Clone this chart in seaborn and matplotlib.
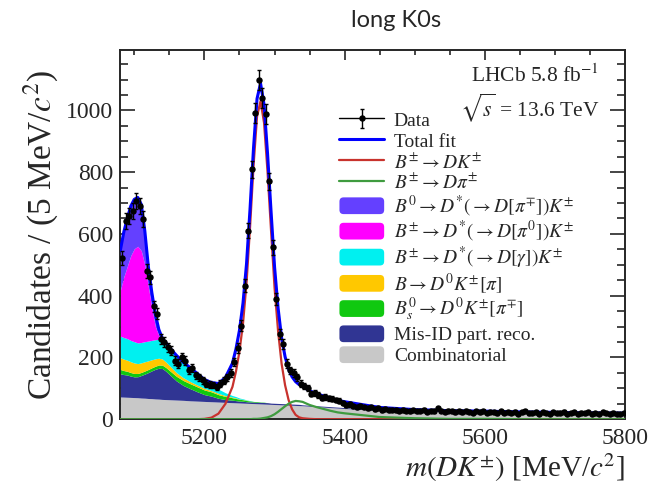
import numpy as np
import matplotlib
matplotlib.use("Agg")
import matplotlib.pyplot as plt
import seaborn as sns
from matplotlib.patches import FancyBboxPatch, Patch
from matplotlib.legend_handler import HandlerPatch
from matplotlib.lines import Line2D
from matplotlib.ticker import MultipleLocator

# Data histogram: 5 MeV bins from 5080 to 5800
bin_lo, bin_width = 5080.0, 5.0
counts = [
    523, 642, 658, 674, 706, 690, 648, 480, 460, 365,
    342, 261, 249, 233, 222, 190, 180, 201, 190, 158,
    165, 142, 135, 126, 115, 112, 110, 105, 115, 125,
    136, 150, 185, 230, 303, 432, 610, 809, 991, 1099,
    1040, 988, 771, 556, 389, 276, 244, 180, 158, 150,
    136, 115, 108, 100, 83, 85, 78, 70, 72, 68,
    66, 62, 60, 52, 45, 48, 42, 40, 44, 38,
    35, 38, 33, 36, 30, 34, 29, 31, 30, 27,
    30, 28, 26, 29, 25, 27, 31, 24, 28, 26,
    35, 27, 24, 28, 25, 23, 26, 22, 27, 24,
    21, 25, 23, 26, 20, 24, 22, 19, 25, 21,
    23, 20, 24, 18, 22, 25, 19, 21, 23, 18,
    22, 20, 17, 23, 19, 21, 24, 18, 20, 22,
    17, 21, 19, 23, 16, 20, 18, 22, 19, 17,
    21, 18, 16, 20,
]

# Fit components sampled along the mass axis
mass = [5080, 5085, 5090, 5095, 5100, 5105, 5110, 5115, 5120, 5125, 5130, 5135, 5140, 5145, 5150, 5155, 5160,
        5170, 5180, 5190, 5200, 5210, 5220, 5230,
        5240, 5245, 5250, 5255, 5260, 5265, 5270, 5275, 5280, 5285, 5290, 5295, 5300, 5305, 5310, 5315, 5320,
        5325, 5330, 5335, 5340,
        5350, 5360, 5370, 5380, 5390, 5400,
        5450, 5500, 5550, 5600, 5650, 5700, 5750, 5800]

combinatorial = [72, 71.5, 71, 70.5, 70, 69.5, 68.5, 68, 67, 66.5, 65.5, 65, 64, 63.5, 63, 62.5, 62,
                 61, 59.5, 58.5, 57.5, 56.5, 55.5, 54.5,
                 53.5, 53, 52.5, 52, 51.5, 51, 50.5, 50, 49.5, 49, 48.5, 48, 47.5, 47, 46.5, 46, 45.5,
                 45, 44.5, 44, 43.5,
                 42, 40.5, 39, 37.5, 36, 34.5,
                 28, 26, 24.5, 23, 21.5, 20, 18.5, 17.5]
misid = [75, 73, 72, 69, 67, 68, 73, 78, 84, 90, 96, 100, 100, 92, 82, 72, 62,
         48, 39, 30, 22, 18, 12, 9,
         8, 7, 6, 6, 5, 5, 5, 5, 5, 5, 5, 4, 4, 4, 4, 4, 4,
         4, 4, 4, 3,
         3, 3, 3, 3, 3, 3,
         3, 2, 2, 2, 2, 2, 2, 2]
bs_d0k = [14, 13, 12, 11.5, 11, 10.5, 10, 10, 10, 10, 10, 10.5, 11, 12, 13, 14, 15,
          16, 16, 16, 15, 14, 12, 10,
          8, 7, 6, 5, 4, 3, 2, 2, 1, 1, 0, 0, 0, 0, 0, 0, 0,
          0, 0, 0, 0,
          0, 0, 0, 0, 0, 0,
          0, 0, 0, 0, 0, 0, 0, 0]
b_d0k = [38, 37, 36, 35, 34, 32, 31, 30, 28, 26, 24, 22, 20, 18, 16, 14, 12,
         9, 7, 6, 5, 4, 4, 3,
         2, 2, 1, 1, 1, 0, 0, 0, 0, 0, 0, 0, 0, 0, 0, 0, 0,
         0, 0, 0, 0,
         0, 0, 0, 0, 0, 0,
         0, 0, 0, 0, 0, 0, 0, 0]
dstar_gamma = [70, 70, 70, 69, 69, 67, 66, 65, 64, 63, 62, 61, 60, 58, 57, 56, 55,
               50, 45, 37, 28, 21, 14, 9,
               5, 4, 3, 2, 1, 1, 0, 0, 0, 0, 0, 0, 0, 0, 0, 0, 0,
               0, 0, 0, 0,
               0, 0, 0, 0, 0, 0,
               0, 0, 0, 0, 0, 0, 0, 0]
dstar_pi0 = [147, 196, 234, 275, 301, 313, 297, 249, 177, 105, 43, 12, 3, 2, 1, 0, 0,
             0, 0, 0, 0, 0, 0, 0,
             0, 0, 0, 0, 0, 0, 0, 0, 0, 0, 0, 0, 0, 0, 0, 0, 0,
             0, 0, 0, 0,
             0, 0, 0, 0, 0, 0,
             0, 0, 0, 0, 0, 0, 0, 0]
dstar_pic = [129, 145, 155, 160, 160, 158, 150, 110, 65, 50, 40, 20, 4, 2, 1, 1, 1,
             0, 0, 0, 0, 0, 0, 0,
             0, 0, 0, 0, 0, 0, 0, 0, 0, 0, 0, 0, 0, 0, 0, 0, 0,
             0, 0, 0, 0,
             0, 0, 0, 0, 0, 0,
             0, 0, 0, 0, 0, 0, 0, 0]
b_dk = [0, 0, 0, 0, 0, 0, 0, 0, 0, 0, 0, 0, 0, 0, 0, 0, 0,
        0, 0, 0, 1, 5, 18, 50,
        105, 155, 220, 310, 440, 620, 820, 980, 1030, 960, 800, 610, 425, 285, 180, 110, 62,
        32, 14, 6, 3,
        1, 0, 0, 0, 0, 0,
        0, 0, 0, 0, 0, 0, 0, 0]
b_dpi = [0, 0, 0, 0, 0, 0, 0, 0, 0, 0, 0, 0, 0, 0, 0, 0, 0,
         0, 0, 0, 0, 0, 0, 0,
         0, 0, 0, 0, 0, 0, 1, 1, 2, 4, 6, 10, 16, 24, 33, 42, 50,
         56, 59, 58, 56,
         46, 39, 33, 27, 22, 19,
         7, 3, 1, 1, 0, 0, 0, 0]

# stacked backgrounds, bottom to top
stack = [combinatorial, misid, bs_d0k, b_d0k, dstar_gamma, dstar_pi0, dstar_pic]
stack_colors = ["#c8c8c8", "#303593", "#10c810", "#ffc800", "#00f0f0", "#ff00ff", "#6440ff"]
stack_labels = ["Combinatorial", "Mis-ID part. reco.",
                r"$B_{s}^{0} \to D^{0}K^{\pm}[\pi^{\mp}]$",
                r"$B \to D^{0}K^{\pm}[\pi]$",
                r"$B^{\pm} \to D^{*}(\to D[\gamma])K^{\pm}$",
                r"$B^{\pm} \to D^{*}(\to D[\pi^{0}])K^{\pm}$",
                r"$B^{0} \to D^{*}(\to D[\pi^{\mp}])K^{\pm}$"]

sns.set_theme(style="ticks")
plt.rcParams["font.family"] = ["Liberation Serif", "DejaVu Serif"]
plt.rcParams["mathtext.fontset"] = "stix"

fig, ax = plt.subplots(figsize=(6.5, 4.92), dpi=100)
fig.subplots_adjust(left=0.185, right=0.962, top=0.898, bottom=0.148)

m = np.array(mass, dtype=float)
base = np.zeros(len(m))
for vals, col in zip(stack, stack_colors):
    top = base + np.array(vals, dtype=float)
    ax.fill_between(m, base, top, color=col, lw=0, zorder=1)
    base = top

total = base + np.array(b_dk) + np.array(b_dpi)

sns.lineplot(x=m, y=b_dk, color="#c8322d", linewidth=1.6, ax=ax, zorder=3)
sns.lineplot(x=m, y=b_dpi, color="#3f9b3f", linewidth=1.6, ax=ax, zorder=3)
sns.lineplot(x=m, y=total, color="#0000ff", linewidth=2.2, ax=ax, zorder=4)

# data points
centres = bin_lo + bin_width * (np.arange(len(counts)) + 0.5)
y = np.array(counts, dtype=float)
ax.errorbar(centres, y, xerr=bin_width / 2, fmt="none", ecolor="black", elinewidth=0.9, zorder=5)
eb = ax.errorbar(centres, y, yerr=np.sqrt(y), fmt="o", color="black", ms=3.6,
                 elinewidth=1.0, capsize=1.5, capthick=1.0, zorder=6)

ax.set_xlim(5080, 5800)
ax.set_ylim(0, 1195)
ax.xaxis.set_major_locator(MultipleLocator(200))
ax.xaxis.set_minor_locator(MultipleLocator(50))
ax.yaxis.set_major_locator(MultipleLocator(200))
ax.yaxis.set_minor_locator(MultipleLocator(50))
ax.tick_params(which="both", direction="in", top=True, right=True, width=1.2, labelsize=17)
ax.tick_params(axis="y", which="major", length=10.5, pad=5)
ax.tick_params(axis="y", which="minor", length=5.5)
ax.tick_params(axis="x", which="major", length=7, pad=6)
ax.tick_params(axis="x", which="minor", length=3.6)
for sp in ax.spines.values():
    sp.set_linewidth(1.4)

ax.set_xlabel(r"$m(DK^{\pm})$ [MeV/$c^{2}$]", fontsize=21, loc="right", labelpad=2)
ax.set_ylabel(r"Candidates / (5 MeV/$c^{2}$)", fontsize=24, labelpad=4)

ax.text(0.948, 0.93, r"LHCb 5.8 fb$^{-1}$", transform=ax.transAxes, ha="right", va="center", fontsize=15.5)
ax.text(0.948, 0.843, r"$\sqrt{s}$ = 13.6 TeV", transform=ax.transAxes, ha="right", va="center", fontsize=15.5)

fig.text(0.61, 0.958, "long K0s", ha="center", va="center", fontsize=17, family="Lato")


def rounded_box(legend, orig_handle, xdescent, ydescent, width, height, fontsize):
    return FancyBboxPatch((-xdescent, -ydescent + 0.08 * height), width, 0.84 * height,
                          boxstyle="round,pad=0,rounding_size=3")


handles = [(Line2D([], [], color="black", lw=1.0), eb),
           Line2D([], [], color="#0000ff", lw=2.2),
           Line2D([], [], color="#c8322d", lw=1.6),
           Line2D([], [], color="#3f9b3f", lw=1.6)]
labels = ["Data", "Total fit", r"$B^{\pm} \to DK^{\pm}$", r"$B^{\pm} \to D\pi^{\pm}$"]
for col, lab in zip(stack_colors[::-1], stack_labels[::-1]):
    handles.append(Patch(facecolor=col, edgecolor="none"))
    labels.append(lab)

ax.legend(handles, labels, loc="upper left", bbox_to_anchor=(0.434, 0.838), frameon=False,
          fontsize=14, handlelength=2.3, handleheight=1.2, handletextpad=0.5, labelspacing=0.02,
          borderpad=0, borderaxespad=0,
          handler_map={Patch: HandlerPatch(patch_func=rounded_box)})

plt.savefig("out.png", dpi=100)
